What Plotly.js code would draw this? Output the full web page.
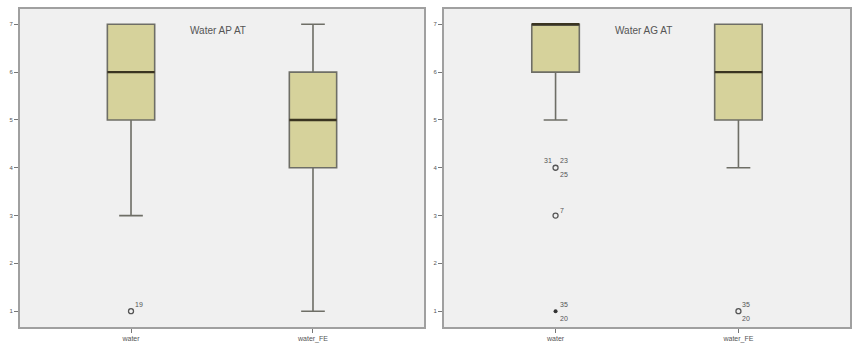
<!DOCTYPE html>
<html>
<head>
<meta charset="utf-8">
<script src="https://cdn.plot.ly/plotly-3.0.1.min.js"></script>
<style>html,body{margin:0;padding:0;background:#fff;}#chart{width:860px;height:356px;}</style>
</head>
<body>
<div id="chart"></div>
<script>
// ---- data ----
const categories = ['water', 'water_FE'];
const panelTitles = ['Water AP AT', 'Water AG AT'];

// Panel 1: Water AP AT
const apQ1 = [5, 4];
const apMedian = [6, 5];
const apQ3 = [7, 6];
const apLower = [3, 1];
const apUpper = [7, 7];
const apOutCat = [0];
const apOutVal = [1];
const apOutExtreme = [false];
const apLabelCat = [0];
const apLabelVal = [1];
const apLabelText = ['19'];
const apLabelPos = ['tr'];

// Panel 2: Water AG AT
const agQ1 = [6, 5];
const agMedian = [7, 6];
const agQ3 = [7, 7];
const agLower = [5, 4];
const agUpper = [7, 7];
const agOutCat = [0, 0, 0, 1];
const agOutVal = [4, 3, 1, 1];
const agOutExtreme = [false, false, true, false];
const agLabelCat = [0, 0, 0, 0, 0, 0, 1, 1];
const agLabelVal = [4, 4, 4, 3, 1, 1, 1, 1];
const agLabelText = ['31', '23', '25', '7', '35', '20', '35', '20'];
const agLabelPos = ['tl', 'tr', 'br', 'trs', 'tr', 'br', 'tr', 'br'];

// ---- styling ----
const boxFill = '#d6d29b';
const boxLine = '#6e6e66';
const medianColor = '#3a3420';
const textColor = '#555555';
const boxWidth = 0.26;
const labelShift = {tr: [8, 7], tl: [-8, 7], br: [8, -7], trs: [6, 5]};
const fontFam = 'Liberation Sans, Arial, sans-serif';

const annotations = [];

function panel(q1, med, q3, lo, hi, oc, ov, oe, lc, lv, lt, lp, xa, ya) {
  const xs = categories.map((c, i) => i);
  const traces = [];
  traces.push({
    type: 'box', x: xs, q1: q1, median: med, q3: q3, lowerfence: lo, upperfence: hi,
    width: boxWidth, whiskerwidth: 0.5, fillcolor: boxFill,
    line: {color: boxLine, width: 1.6}, boxpoints: false, hoverinfo: 'none',
    xaxis: xa, yaxis: ya, showlegend: false
  });
  const mx = [], my = [];
  med.forEach((m, i) => { mx.push(i - boxWidth / 2, i + boxWidth / 2, null); my.push(m, m, null); });
  traces.push({type: 'scatter', mode: 'lines', x: mx, y: my, line: {color: medianColor, width: 2.4},
    xaxis: xa, yaxis: ya, showlegend: false, hoverinfo: 'none'});
  const openX = [], openY = [], extX = [], extY = [];
  oc.forEach((c, i) => { if (oe[i]) { extX.push(c); extY.push(ov[i]); } else { openX.push(c); openY.push(ov[i]); } });
  traces.push({type: 'scatter', mode: 'markers', x: openX, y: openY,
    marker: {symbol: 'circle-open', size: 5, color: '#555', line: {width: 1.3, color: '#555'}},
    xaxis: xa, yaxis: ya, showlegend: false, hoverinfo: 'none'});
  traces.push({type: 'scatter', mode: 'markers', x: extX, y: extY,
    marker: {symbol: 'circle', size: 4, color: '#333'},
    xaxis: xa, yaxis: ya, showlegend: false, hoverinfo: 'none'});
  lt.forEach((t, i) => {
    const s = labelShift[lp[i]];
    annotations.push({text: t, x: lc[i], y: lv[i], xref: xa, yref: ya, showarrow: false,
      xshift: s[0], yshift: s[1], font: {size: 7, color: textColor, family: fontFam}});
  });
  return traces;
}

const data = [].concat(
  panel(apQ1, apMedian, apQ3, apLower, apUpper, apOutCat, apOutVal, apOutExtreme, apLabelCat, apLabelVal, apLabelText, apLabelPos, 'x', 'y'),
  panel(agQ1, agMedian, agQ3, agLower, agUpper, agOutCat, agOutVal, agOutExtreme, agLabelCat, agLabelVal, agLabelText, agLabelPos, 'x2', 'y2')
);

const tickFont = {size: 6, color: textColor, family: fontFam};
function xAxis(domain, anchor) {
  return {domain: domain, anchor: anchor, range: [-0.61, 1.61], tickmode: 'array',
    tickvals: categories.map((c, i) => i), ticktext: categories, tickfont: {size: 7, color: textColor, family: fontFam},
    ticks: 'outside', ticklen: 4, tickcolor: '#777', showgrid: false, zeroline: false,
    showline: true, mirror: true, linecolor: '#a0a0a0', linewidth: 2, fixedrange: true};
}
function yAxis(anchor) {
  return {domain: [0.0815, 0.9747], anchor: anchor, range: [0.67, 7.32], dtick: 1, tick0: 1,
    tickfont: tickFont, ticks: 'outside', ticklen: 4, tickcolor: '#777', showgrid: false,
    zeroline: false, showline: true, mirror: true, linecolor: '#a0a0a0', linewidth: 2, fixedrange: true};
}

annotations.push(
  {text: panelTitles[0], xref: 'x domain', yref: 'y domain', x: 0.49, y: 0.931, yanchor: 'middle', showarrow: false,
    font: {size: 10, color: textColor, family: fontFam}},
  {text: panelTitles[1], xref: 'x2 domain', yref: 'y2 domain', x: 0.491, y: 0.931, yanchor: 'middle', showarrow: false,
    font: {size: 10, color: textColor, family: fontFam}}
);

const layout = {
  width: 860, height: 356,
  margin: {l: 0, r: 0, t: 0, b: 0},
  paper_bgcolor: '#ffffff', plot_bgcolor: '#f0f0f0',
  showlegend: false,
  xaxis: xAxis([20 / 860, 424 / 860], 'y'),
  yaxis: yAxis('x'),
  xaxis2: xAxis([444 / 860, 850 / 860], 'y2'),
  yaxis2: yAxis('x2'),
  annotations: annotations
};

Plotly.newPlot('chart', data, layout, {displayModeBar: false, staticPlot: true});
</script>
</body>
</html>
